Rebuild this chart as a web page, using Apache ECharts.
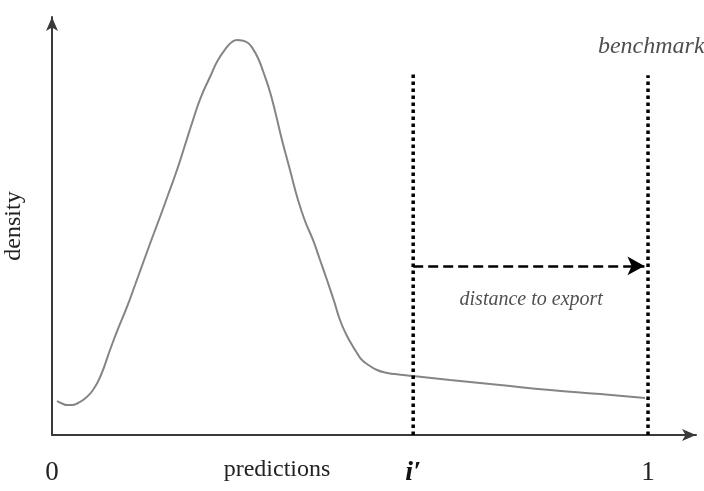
<!DOCTYPE html>
<html>
<head>
<meta charset="utf-8">
<script src="https://cdn.jsdelivr.net/npm/echarts@6/dist/echarts.min.js"></script>
<style>
  html, body { margin: 0; padding: 0; background: #fff; }
  #chart { width: 704px; height: 491px; }
</style>
</head>
<body>
<div id="chart"></div>
<script>
// ---- data ----
const curveX = [0.0084, 0.0168, 0.0252, 0.0336, 0.0436, 0.0554, 0.0688, 0.0822, 0.0973, 0.1107, 0.1258, 0.1393, 0.1527, 0.1661, 0.1812, 0.1946, 0.2097, 0.2232, 0.2366, 0.2500, 0.2651, 0.2785, 0.2936, 0.3020, 0.3104, 0.3188, 0.3289, 0.3372, 0.3456, 0.3540, 0.3658, 0.3758, 0.3859, 0.3993, 0.4128, 0.4245, 0.4379, 0.4497, 0.4614, 0.4732, 0.4832, 0.4933, 0.5034, 0.5117, 0.5201, 0.5336, 0.5453, 0.5587, 0.5755, 0.6057, 0.6678, 0.7517, 0.8356, 0.9195, 0.9950];
const curveY = [0.0861, 0.0797, 0.0759, 0.0759, 0.0810, 0.0924, 0.1139, 0.1519, 0.2152, 0.2684, 0.3241, 0.3797, 0.4354, 0.4911, 0.5519, 0.6076, 0.6709, 0.7342, 0.7975, 0.8557, 0.9063, 0.9494, 0.9823, 0.9949, 1.0000, 0.9987, 0.9924, 0.9772, 0.9544, 0.9215, 0.8684, 0.8101, 0.7468, 0.6709, 0.5949, 0.5418, 0.4937, 0.4430, 0.3924, 0.3392, 0.2911, 0.2557, 0.2278, 0.2076, 0.1899, 0.1747, 0.1646, 0.1582, 0.1544, 0.1494, 0.1392, 0.1266, 0.1139, 0.1038, 0.0937];

const thresholdX = 0.606;     // i'
const benchmarkX = 1.0;       // benchmark
const dottedTopY = [0.916, 0.911];
const arrowY = 0.428;
const arrowEndX = 0.994;

const xTickValues = [0, 0.606, 1];
const xTickLabels = ['0', "i\u2032", '1'];
const xAxisName = 'predictions';
const yAxisName = 'density';
const benchmarkText = 'benchmark';
const benchmarkPos = [0.916, 0.982];
const distanceText = 'distance to export';
const distancePos = [0.804, 0.342];

// ---- chart ----
const serif = '"Liberation Serif", "DejaVu Serif", serif';
const chart = echarts.init(document.getElementById('chart'), null, { renderer: 'canvas' });

const curveData = curveX.map((x, i) => [x, curveY[i]]);

const option = {
  animation: false,
  backgroundColor: '#ffffff',
  grid: { left: 52, top: 17, width: 644, height: 418, containLabel: false, outerBoundsMode: 'none' },
  xAxis: {
    type: 'value', min: 0, max: 1.0805,
    name: xAxisName, nameLocation: 'middle', nameGap: 23, nameMoveOverlap: false,
    nameTextStyle: { fontFamily: serif, fontSize: 24, color: '#222', padding: [0, 194, 0, 0] },
    axisLine: { show: true, symbol: ['none', 'arrow'], symbolSize: [9, 14], lineStyle: { color: '#3a3a3a', width: 2 } },
    axisTick: { show: false },
    splitLine: { show: false },
    axisLabel: {
      customValues: xTickValues,
      margin: 24,
      fontFamily: serif, fontSize: 27, color: '#222',
      formatter: function (v) {
        let idx = xTickValues.findIndex(t => Math.abs(t - v) < 1e-6);
        if (idx < 0) return '';
        return idx === 1 ? '{i|' + xTickLabels[idx] + '}' : xTickLabels[idx];
      },
      rich: { i: { fontFamily: serif, fontSize: 28, fontStyle: 'italic', fontWeight: 'bold', color: '#111' } }
    }
  },
  yAxis: {
    type: 'value', min: 0, max: 1.0582,
    name: yAxisName, nameLocation: 'middle', nameGap: 26, nameRotate: 90, nameMoveOverlap: false,
    nameTextStyle: { fontFamily: serif, fontSize: 24, color: '#222' },
    axisLine: { show: true, symbol: ['none', 'arrow'], symbolSize: [9, 14], lineStyle: { color: '#3a3a3a', width: 2 } },
    axisTick: { show: false },
    axisLabel: { show: false },
    splitLine: { show: false }
  },
  series: [
    {
      type: 'line', data: curveData, smooth: 0.5, showSymbol: false, silent: true,
      lineStyle: { color: '#858585', width: 2 }
    },
    {
      type: 'line', data: [[thresholdX, 0], [thresholdX, dottedTopY[0]]], showSymbol: false, silent: true,
      lineStyle: { color: '#000', width: 3.5, type: [3.5, 3.5] }
    },
    {
      type: 'line', data: [[benchmarkX, 0], [benchmarkX, dottedTopY[1]]], showSymbol: false, silent: true,
      lineStyle: { color: '#000', width: 3.5, type: [3.5, 3.5] }
    },
    {
      type: 'line', data: [], silent: true,
      markLine: {
        silent: true, symbol: ['none', 'arrow'], symbolSize: [14, 17],
        label: { show: false },
        lineStyle: { color: '#000', width: 2.5, type: [10, 5] },
        data: [[{ coord: [thresholdX, arrowY] }, { coord: [arrowEndX, arrowY] }]]
      }
    },
    {
      type: 'scatter', symbolSize: 0, silent: true,
      data: [benchmarkPos],
      label: { show: true, position: 'right', distance: 0, formatter: benchmarkText,
        fontFamily: serif, fontStyle: 'italic', fontSize: 24, color: '#222' }
    },
    {
      type: 'scatter', symbolSize: 0, silent: true,
      data: [distancePos],
      label: { show: true, position: 'inside', formatter: distanceText,
        fontFamily: serif, fontStyle: 'italic', fontSize: 20, color: '#222' }
    }
  ]
};
chart.setOption(option);
</script>
</body>
</html>
